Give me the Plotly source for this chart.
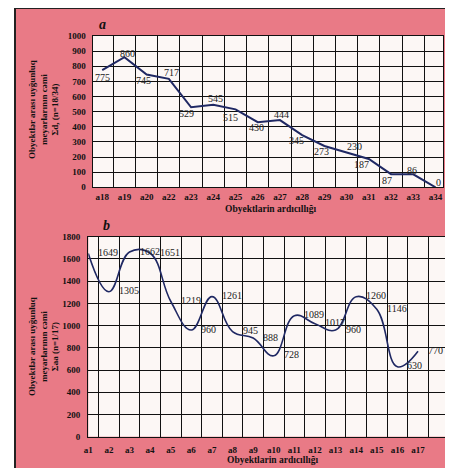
import plotly.graph_objects as go

# ---------------- data ----------------
a_categories = ["a18", "a19", "a20", "a22", "a23", "a24", "a25", "a26",
                "a27", "a28", "a29", "a30", "a31", "a32", "a33", "a34"]
a_values = [775, 860, 745, 717, 529, 545, 515, 430, 444, 345, 273, 230, 187, 87, 86, 0]
a_y_ticks = list(range(0, 1001, 100))

b_categories = ["a1", "a2", "a3", "a4", "a5", "a6", "a7", "a8", "a9",
                "a10", "a11", "a12", "a13", "a14", "a15", "a16", "a17"]
b_values = [1649, 1305, 1662, 1651, 1219, 960, 1261, 945, 888, 728,
            1089, 1017, 960, 1260, 1146, 630, 770]
b_y_ticks = list(range(0, 1801, 200))

x_title = "Obyektlarin ardıcıllığı"
a_y_title = "Obyektlər arası uyğunluq<br>meyarlarının cəmi<br>Σd, (n=18/34)"
b_y_title = "Obyektlər arası uyğunluq<br>meyarlarının cəmi<br>Σaa (n=1/17)"

# label offsets (pixels) for panel a value labels: (dx, dy-down)
a_label_offsets = [(0, 7), (3, -4), (-3, 6), (3, -6), (-5, 6), (2, -6), (-5, 8), (-1, 5),
                   (2, -6), (-6, 5), (-3, 5), (8, -6), (-7, 5), (-4, 6), (-1, -4), (3, -5)]

# ---------------- style ----------------
# page has an 8px body margin, so the figure is sized to fit the window
OFF = 8
W, H = 437, 460
PINK = "#e97a86"
PLOT_BG = "#fcf7f5"
LINE = "#1f2863"
SERIF = "Liberation Serif"

def px_x(p):
    return min(1.0, max(0.0, (p - OFF) / W))

def px_y(p):
    return min(1.0, max(0.0, 1 - (p - OFF) / H))

fig = go.Figure()

fig.add_trace(go.Scatter(x=a_categories, y=a_values, mode="lines",
                         line=dict(color=LINE, width=2), xaxis="x", yaxis="y",
                         showlegend=False, hoverinfo="skip"))
fig.add_trace(go.Scatter(x=b_categories, y=b_values, mode="lines",
                         line=dict(color=LINE, width=1.6, shape="spline", smoothing=1.2),
                         xaxis="x2", yaxis="y2", showlegend=False, hoverinfo="skip"))

tickfont = dict(family=SERIF, size=9, color="#111", weight="bold")
common_x = dict(type="category", tickson="boundaries", showgrid=True, gridcolor="#111",
                gridwidth=1.2, showline=True, linecolor="#111", linewidth=1.4, mirror=True,
                ticks="", tickfont=tickfont, zeroline=False, fixedrange=True,
                tickangle=0, automargin=False)
common_y = dict(showgrid=True, gridcolor="#111", gridwidth=1.2, showline=True,
                linecolor="#111", linewidth=1.4, mirror=True, ticks="",
                tickfont=tickfont, zeroline=False, fixedrange=True, automargin=False)

annotations = []
for cat, val, (dx, dy) in zip(a_categories, a_values, a_label_offsets):
    annotations.append(dict(x=cat, y=val, xref="x", yref="y", text=str(val), showarrow=False,
                            xanchor="center", yanchor="middle", xshift=dx, yshift=-dy,
                            font=dict(family=SERIF, size=10, color="#222")))
for cat, val in zip(b_categories, b_values):
    annotations.append(dict(x=cat, y=val, xref="x2", yref="y2", text=str(val), showarrow=False,
                            xanchor="left", yanchor="middle", xshift=8, yshift=1,
                            font=dict(family=SERIF, size=10, color="#222")))

def paper_text(x, y, text, size, angle=0):
    return dict(x=px_x(x), y=px_y(y), xref="paper", yref="paper", text=text,
                showarrow=False, xanchor="center", yanchor="middle", textangle=angle,
                font=dict(family=SERIF, size=size, color="#111"))

annotations.append(paper_text(102, 24, "<b><i>a</i></b>", 14))
annotations.append(paper_text(106, 226, "<b><i>b</i></b>", 14))
annotations.append(paper_text(270, 209, "<b>" + x_title + "</b>", 9.5))
annotations.append(paper_text(272, 460, "<b>" + x_title + "</b>", 9.5))
annotations.append(paper_text(43, 110, "<b>" + a_y_title + "</b>", 9, -90))
annotations.append(paper_text(43, 347, "<b>" + b_y_title + "</b>", 9, -90))

shapes = [
    dict(type="rect", xref="paper", yref="paper", x0=0, x1=px_x(14), y0=0, y1=1,
         fillcolor="white", line=dict(width=0), layer="below"),
    dict(type="line", xref="paper", yref="paper", x0=px_x(15), x1=px_x(15), y0=0, y1=1,
         line=dict(color="#222", width=2)),
    dict(type="line", xref="paper", yref="paper", x0=px_x(15), x1=1, y0=1, y1=1,
         line=dict(color="#222", width=2)),
]

fig.update_layout(
    width=W, height=H,
    autosize=False,
    margin=dict(l=0, r=0, t=0, b=0, pad=0, autoexpand=False),
    paper_bgcolor=PINK,
    plot_bgcolor=PLOT_BG,
    showlegend=False,
    xaxis=dict(domain=[px_x(92.7), px_x(443)], anchor="y", ticklabelstandoff=1, **common_x),
    yaxis=dict(domain=[px_y(187.3), px_y(36)], anchor="x", range=[0, 1000],
               tickvals=a_y_ticks, ticklabelstandoff=4, **common_y),
    xaxis2=dict(domain=[px_x(88.3), px_x(448)], anchor="y2", ticklabelstandoff=4, **common_x),
    yaxis2=dict(domain=[px_y(436.7), px_y(236.7)], anchor="x2", range=[0, 1800],
                tickvals=b_y_ticks, ticklabelstandoff=5, **common_y),
    annotations=annotations,
    shapes=shapes,
)

fig.write_html("out.html")
